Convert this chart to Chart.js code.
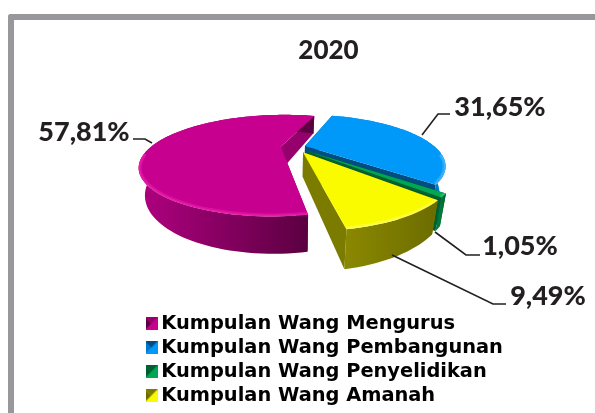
<!DOCTYPE html>
<html>
<head>
<meta charset="utf-8">
<title>2020</title>
<script src="https://cdn.jsdelivr.net/npm/chart.js@4/dist/chart.umd.min.js"></script>
<style>
  body { margin: 0; background: #fff; overflow: hidden; }
  #frame {
    position: absolute; left: 8px; top: 14px; width: 600px; height: 420px;
    border-left: 6px solid #98989c; border-top: 6px solid #98989c;
    border-top-left-radius: 3px;
  }
  canvas { position: absolute; left: 0; top: 0; }
</style>
</head>
<body>
<div id="frame"></div>
<canvas id="chart-area" width="595" height="413"></canvas>
<script>
var categories = ["Kumpulan Wang Mengurus", "Kumpulan Wang Pembangunan", "Kumpulan Wang Penyelidikan", "Kumpulan Wang Amanah"];
var shares = [57.81, 31.65, 1.05, 9.49];
var chartTitle = "2020";

var topColors = ["#c80090", "#0099fa", "#00a651", "#fbfb00"];
var faceColors = ["#96006c", "#004d80", "#00602f", "#7b7b00"];
var wallLeft = ["#b00080", "#0090ec", "#007a3c", "#8a8800"];
var wallRight = ["#58003f", "#0078c8", "#005c2d", "#6c6c00"];
var rimColors = ["rgba(255,50,185,0.35)", "rgba(120,205,255,0.3)", "rgba(90,230,150,0.25)", "rgba(255,255,170,0.25)"];

// perspective of the pie plane, worked out from the picture
var view = { cx: 295, cy: 147, rx: 130, ry: 44, tilt: 0.374, depth: 23.5, shrink: 0.96 };
var explode = [0.11, 0.08, 0.125, 0.13];

// where the value labels sit, and their leader lines
var labelSpots = [
  { x: 84, y: 132, line: [[133, 139], [145, 139], [152, 143]] },
  { x: 500, y: 107, line: [[450, 114], [438, 114], [422, 135]] },
  { x: 520, y: 246, line: [[480, 255], [466, 255], [435, 232]] },
  { x: 548, y: 296, line: [[506, 304], [493, 304], [392, 255]] },
];

function project(a, b, low) {
  var w = 1 - view.tilt * b;
  var x = view.cx + (view.rx * a) / w;
  var y = view.cy + (view.ry * b) / w;
  if (low) {
    x = view.cx + (x - view.cx) * view.shrink;
    y += view.depth / w;
  }
  return [x, y];
}

function rimPoints(arc, i, low) {
  var mid = (arc.startAngle + arc.endAngle) / 2;
  var ox = explode[i] * Math.cos(mid);
  var oy = explode[i] * Math.sin(mid);
  var steps = Math.max(4, Math.round((arc.endAngle - arc.startAngle) * 30));
  var pts = [];
  for (let s = 0; s <= steps; s++) {
    let t = arc.startAngle + ((arc.endAngle - arc.startAngle) * s) / steps;
    pts.push(project(ox + Math.cos(t), oy + Math.sin(t), low));
  }
  return { tip: project(ox, oy, low), pts: pts };
}

function fillPoly(ctx, pts, fill) {
  ctx.beginPath();
  pts.forEach((p, i) => (i ? ctx.lineTo(p[0], p[1]) : ctx.moveTo(p[0], p[1])));
  ctx.closePath();
  ctx.fillStyle = fill;
  ctx.fill();
}

function drawSlice(ctx, arc, i) {
  var top = rimPoints(arc, i, false);
  var low = rimPoints(arc, i, true);
  var n = top.pts.length - 1;

  // the two cut faces
  fillPoly(ctx, [top.tip, top.pts[0], low.pts[0], low.tip], faceColors[i]);
  fillPoly(ctx, [top.tip, top.pts[n], low.pts[n], low.tip], faceColors[i]);

  // outer wall
  var xs = top.pts.map((p) => p[0]);
  var grad = ctx.createLinearGradient(Math.min(...xs), 0, Math.max(...xs), 0);
  grad.addColorStop(0, wallLeft[i]);
  grad.addColorStop(1, wallRight[i]);
  fillPoly(ctx, top.pts.concat(low.pts.slice().reverse()), grad);

  // top surface
  fillPoly(ctx, [top.tip].concat(top.pts), topColors[i]);

  // soft bevel, only on the part of the rim that faces us
  var front = top.pts.filter((p) => p[1] > view.cy + 6);
  ctx.save();
  ctx.beginPath();
  ctx.moveTo(top.tip[0], top.tip[1]);
  top.pts.forEach((p) => ctx.lineTo(p[0], p[1]));
  ctx.closePath();
  ctx.clip();
  ctx.strokeStyle = rimColors[i];
  [6, 3].forEach((width) => {
    ctx.lineWidth = width;
    ctx.beginPath();
    front.forEach((p, k) => (k ? ctx.lineTo(p[0], p[1]) : ctx.moveTo(p[0], p[1])));
    ctx.stroke();
  });
  ctx.restore();
}

function bevelBox(i) {
  var c = document.createElement("canvas");
  c.width = 13;
  c.height = 13;
  var g = c.getContext("2d");
  g.fillStyle = topColors[i];
  g.fillRect(0, 0, 13, 13);
  fillPoly(g, [[0, 0], [13, 0], [6.5, 6.5]], faceColors[i]);
  fillPoly(g, [[0, 0], [0, 13], [6.5, 6.5]], wallRight[i]);
  return c;
}

var pie3d = {
  id: "pie3d",
  beforeDatasetDraw(chart, args) {
    var ctx = chart.ctx;
    chart.getDatasetMeta(args.index).data.forEach((arc, i) => drawSlice(ctx, arc, i));
    return false;
  },
  afterDatasetsDraw(chart) {
    var ctx = chart.ctx;
    labelSpots.forEach((spot, i) => {
      ctx.beginPath();
      spot.line.forEach((p, k) => (k ? ctx.lineTo(p[0], p[1]) : ctx.moveTo(p[0], p[1])));
      ctx.strokeStyle = "#231f20";
      ctx.lineWidth = 1.6;
      ctx.stroke();
      ctx.fillStyle = "#231f20";
      ctx.font = "900 27px Lato";
      ctx.textAlign = "center";
      ctx.textBaseline = "middle";
      ctx.fillText(shares[i].toFixed(2).replace(".", ",") + "%", spot.x, spot.y);
    });
  },
};

var config = {
  type: "pie",
  data: {
    labels: categories,
    datasets: [
      {
        data: shares,
        backgroundColor: topColors,
        borderWidth: 0,
      },
    ],
  },
  options: {
    responsive: false,
    animation: false,
    rotation: 170,
    layout: { padding: { left: 146, right: 84, top: 25, bottom: 3 } },
    plugins: {
      title: {
        display: true,
        text: chartTitle,
        color: "#231f20",
        font: { family: "Lato", size: 26, weight: "900" },
        padding: { top: 10, bottom: 0 },
      },
      legend: {
        position: "left",
        align: "end",
        maxWidth: 420,
        labels: {
          color: "#231f20",
          font: { family: "DejaVu Sans", size: 19.4, weight: "bold" },
          usePointStyle: true,
          pointStyleWidth: 1,
          boxHeight: 13,
          padding: 4.6,
          generateLabels: () =>
            categories.map((name, i) => ({
              text: name,
              fillStyle: topColors[i],
              strokeStyle: topColors[i],
              lineWidth: 0,
              pointStyle: bevelBox(i),
              index: i,
            })),
        },
      },
      tooltip: { enabled: false },
    },
  },
  plugins: [pie3d],
};

var ctx = document.getElementById("chart-area").getContext("2d");
window.chart = new Chart(ctx, config);
</script>
</body>
</html>
